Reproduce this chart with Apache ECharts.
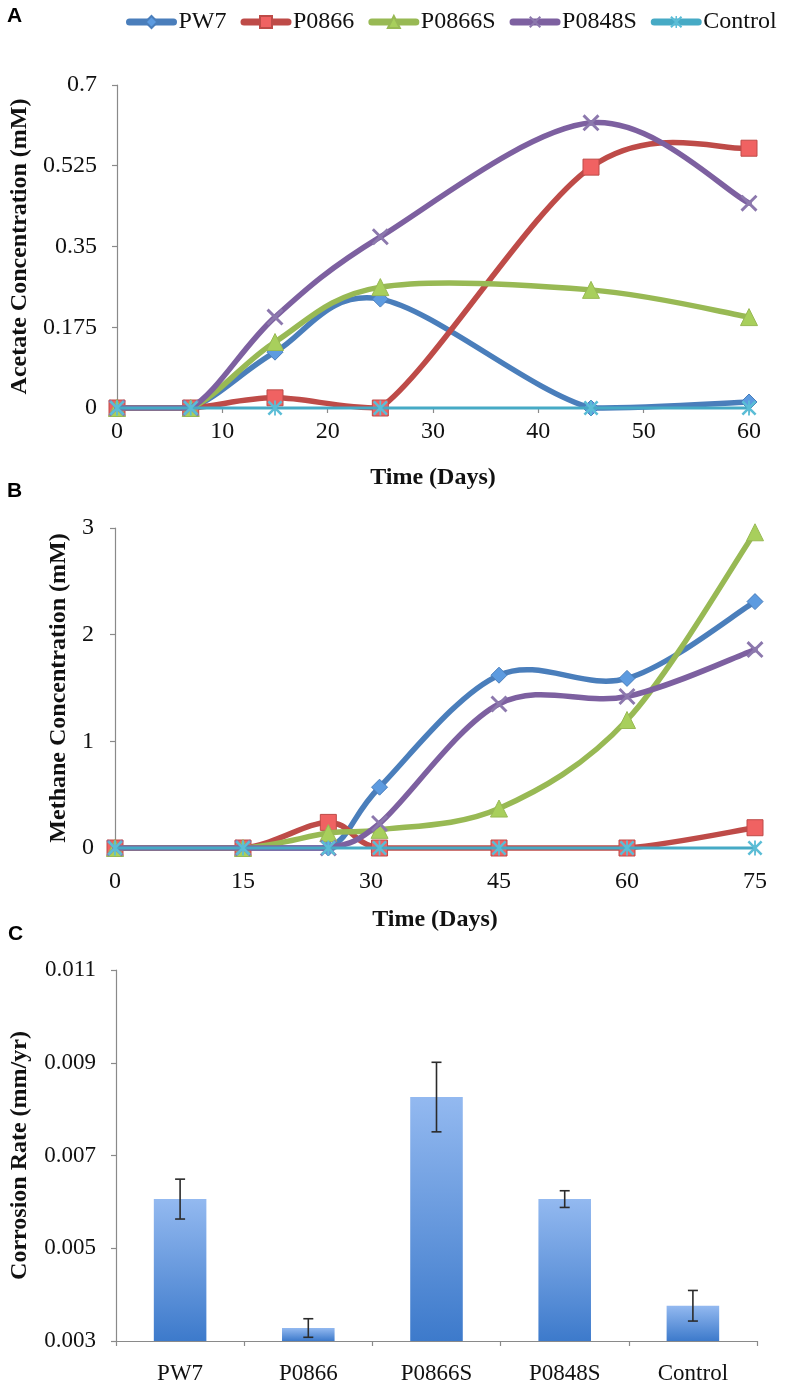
<!DOCTYPE html>
<html><head><meta charset="utf-8">
<script src="https://cdn.jsdelivr.net/npm/echarts@6/dist/echarts.min.js"></script>
<style>html,body{margin:0;padding:0;background:#fff}#c{width:787px;height:1390px}</style>
</head><body><div id="c"></div><script>
// ---------- data ----------
const seriesNames = ['PW7', 'P0866', 'P0866S', 'P0848S', 'Control'];

const acetateDays = [0, 7, 15, 25, 45, 60];
const acetatePW7 = [0, 0, 0.121, 0.236, 0, 0.013];
const acetateP0866 = [0, 0, 0.022, 0, 0.522, 0.563];
const acetateP0866S = [0, 0, 0.143, 0.262, 0.256, 0.197];
const acetateP0848S = [0, 0, 0.197, 0.371, 0.618, 0.444];
const acetateControl = [0, 0, 0, 0, 0, 0];
const acetateTicks = [0, 0.175, 0.35, 0.525, 0.7];

const methaneDays = [0, 15, 25, 31, 45, 60, 75];
const methanePW7 = [0, 0, 0, 0.57, 1.62, 1.59, 2.31];
const methaneP0866 = [0, 0, 0.24, 0, 0, 0, 0.19];
const methaneP0866S = [0, 0, 0.14, 0.17, 0.37, 1.20, 2.96];
const methaneP0848S = [0, 0, 0, 0.23, 1.35, 1.42, 1.86];
const methaneControl = [0, 0, 0, 0, 0, 0, 0];

const corrosionCategories = ['PW7', 'P0866', 'P0866S', 'P0848S', 'Control'];
const corrosionRate = [0.00606, 0.00328, 0.00826, 0.00606, 0.00376];
const corrosionErr = [0.00043, 0.00020, 0.00075, 0.00018, 0.00033];
const corrosionTicks = [0.003, 0.005, 0.007, 0.009, 0.011];

// ---------- styles ----------
const SERIF = 'Liberation Serif';
const lineColors = ['#4a7ebb', '#be4b48', '#98b954', '#7d60a0', '#46aac5'];
const markerFill = ['#5d9be0', '#f06262', '#a8cf5c', '#8c78ad', '#5bbdd6'];
const xPath = 'path://M0,1.2 L1.2,0 L10,8.8 L8.8,10 Z M8.8,0 L10,1.2 L1.2,10 L0,8.8 Z';
const starPath = 'path://M0,1.2 L1.2,0 L10,8.8 L8.8,10 Z M8.8,0 L10,1.2 L1.2,10 L0,8.8 Z M4.4,0 L5.6,0 L5.6,10 L4.4,10 Z';
const symbols = ['diamond', 'rect', 'triangle', xPath, starPath];
const symbolSizes = [16, 16, 17, 17, 15];
const lineWidths = [5.5, 5.5, 5.5, 5.5, 3];

function pairs(xs, ys) { return xs.map((x, i) => [x, ys[i]]); }

function markerSeries(idx, name, xs, ys, axisIndex) {
  return {
    type: 'line', name: name, xAxisIndex: axisIndex, yAxisIndex: axisIndex,
    data: pairs(xs, ys),
    symbol: symbols[idx], symbolSize: symbolSizes[idx], showAllSymbol: true,
    lineStyle: { color: lineColors[idx], width: lineWidths[idx], opacity: 0 },
    itemStyle: { color: markerFill[idx], borderColor: idx >= 3 ? markerFill[idx] : lineColors[idx], borderWidth: idx >= 3 ? 0 : 1 },
    z: 3 + 2 * idx, animation: false
  };
}
function dist(a, b) { return Math.hypot(b[0] - a[0], b[1] - a[1]); }
// Excel-style smoothed line: Catmull-Rom Bezier (tension 1/6) with tangent length limited
// to half the segment, computed from data points converted through the axis scales.
function curveSeries(idx, name, xs, ys, axisIndex) {
  return {
    type: 'custom', name: name + ' curve', xAxisIndex: axisIndex, yAxisIndex: axisIndex,
    data: pairs(xs, ys), silent: true, animation: false, z: 2 + 2 * idx,
    renderItem: function (params, api) {
      if (params.dataIndex !== 0) return null;
      const cs = params.coordSys;
      const yTop = cs.y, yBot = cs.y + cs.height;
      const clampY = v => Math.max(yTop, Math.min(yBot, v));
      const pts = xs.map((x, i) => api.coord([x, ys[i]]));
      const children = [];
      for (let i = 0; i < pts.length - 1; i++) {
        const p0 = pts[i - 1] || pts[i], p1 = pts[i], p2 = pts[i + 1], p3 = pts[i + 2] || pts[i + 1];
        const d12 = dist(p1, p2), d02 = dist(p0, p2), d13 = dist(p1, p3);
        let f0 = 1 / 6, f1 = 1 / 6;
        if (d02 / 6 > d12 / 2 && d02 > 0) f0 = d12 / (2 * d02);
        if (d13 / 6 > d12 / 2 && d13 > 0) f1 = d12 / (2 * d13);
        children.push({
          type: 'bezierCurve',
          shape: {
            x1: p1[0], y1: p1[1], x2: p2[0], y2: p2[1],
            cpx1: p1[0] + (p2[0] - p0[0]) * f0, cpy1: clampY(p1[1] + (p2[1] - p0[1]) * f0),
            cpx2: p2[0] - (p3[0] - p1[0]) * f1, cpy2: clampY(p2[1] - (p3[1] - p1[1]) * f1)
          },
          style: { stroke: lineColors[idx], lineWidth: lineWidths[idx], fill: null, lineCap: 'round' }
        });
      }
      return { type: 'group', children: children };
    }
  };
}

const acetateSets = [acetatePW7, acetateP0866, acetateP0866S, acetateP0848S, acetateControl];
const methaneSets = [methanePW7, methaneP0866, methaneP0866S, methaneP0848S, methaneControl];

const series = [];
acetateSets.forEach((ys, i) => {
  series.push(curveSeries(i, seriesNames[i], acetateDays, ys, 0));
  series.push(markerSeries(i, seriesNames[i], acetateDays, ys, 0));
});
methaneSets.forEach((ys, i) => {
  series.push(curveSeries(i, seriesNames[i], methaneDays, ys, 1));
  series.push(markerSeries(i, seriesNames[i], methaneDays, ys, 1));
});

series.push({
  type: 'bar', name: 'Corrosion', xAxisIndex: 2, yAxisIndex: 2,
  data: corrosionRate, barWidth: '41%', animation: false,
  itemStyle: {
    color: new echarts.graphic.LinearGradient(0, 0, 0, 1, [
      { offset: 0, color: '#93b9f0' }, { offset: 1, color: '#3d7acb' }
    ])
  }
});
series.push({
  type: 'custom', name: 'err', xAxisIndex: 2, yAxisIndex: 2, animation: false, z: 10,
  data: corrosionRate.map((v, i) => [i, v - corrosionErr[i], v + corrosionErr[i]]),
  renderItem: function (params, api) {
    const lo = api.coord([api.value(0), api.value(1)]);
    const hi = api.coord([api.value(0), api.value(2)]);
    const w = 5;
    const st = { stroke: '#2b2b2b', lineWidth: 1.6 };
    return { type: 'group', children: [
      { type: 'line', shape: { x1: lo[0], y1: lo[1], x2: hi[0], y2: hi[1] }, style: st },
      { type: 'line', shape: { x1: hi[0] - w, y1: hi[1], x2: hi[0] + w, y2: hi[1] }, style: st },
      { type: 'line', shape: { x1: lo[0] - w, y1: lo[1], x2: lo[0] + w, y2: lo[1] }, style: st }
    ]};
  }
});

const axisLine = { show: true, lineStyle: { color: '#8a8a8a', width: 1.2 } };
const axisTick = { show: true, inside: false, length: 5, lineStyle: { color: '#8a8a8a', width: 1.2 } };
const tickFont = { fontFamily: SERIF, fontSize: 24, color: '#111' };
const tickFontC = { fontFamily: SERIF, fontSize: 23, color: '#111' };
const nameFont = { fontFamily: SERIF, fontSize: 24, fontWeight: 'bold', color: '#111' };

const option = {
  backgroundColor: '#fff',
  animation: false,
  legend: {
    data: seriesNames, left: 121, top: 5, width: 700, itemWidth: 44, itemHeight: 15, itemGap: 14,
    lineStyle: { width: 7, opacity: 1, cap: 'round' },
    textStyle: { fontFamily: SERIF, fontSize: 24, color: '#111' }
  },
  graphic: [
    { type: 'text', left: 7, top: 6, style: { text: 'A', font: 'bold 21px "Liberation Sans"', fill: '#000' } },
    { type: 'text', left: 7, top: 481, style: { text: 'B', font: 'bold 21px "Liberation Sans"', fill: '#000' } },
    { type: 'text', left: 8, top: 924, style: { text: 'C', font: 'bold 21px "Liberation Sans"', fill: '#000' } }
  ],
  grid: [
    { left: 117, top: 85, width: 632, height: 323 },
    { left: 115, top: 528, width: 640, height: 320 },
    { left: 116, top: 970, width: 641, height: 371 }
  ],
  xAxis: [
    { type: 'value', gridIndex: 0, min: 0, max: 60, interval: 10, splitLine: { show: false },
      axisLine: axisLine, axisTick: axisTick, axisLabel: Object.assign({ margin: 12 }, tickFont),
      name: 'Time (Days)', nameLocation: 'middle', nameGap: 58, nameTextStyle: nameFont },
    { type: 'value', gridIndex: 1, min: 0, max: 75, interval: 15, splitLine: { show: false },
      axisLine: axisLine, axisTick: axisTick, axisLabel: Object.assign({ margin: 22 }, tickFont),
      name: 'Time (Days)', nameLocation: 'middle', nameGap: 60, nameTextStyle: nameFont },
    { type: 'category', gridIndex: 2, data: corrosionCategories, boundaryGap: true,
      axisLine: axisLine, axisTick: Object.assign({}, axisTick, { alignWithLabel: false }),
      axisLabel: Object.assign({ margin: 21 }, tickFontC) }
  ],
  yAxis: [
    { type: 'value', gridIndex: 0, min: 0, max: 0.7, splitLine: { show: false },
      axisLine: axisLine,
      axisTick: Object.assign({}, axisTick, { customValues: acetateTicks }),
      axisLabel: Object.assign({ margin: 20, customValues: acetateTicks, formatter: v => String(+v.toFixed(3)) }, tickFont),
      name: 'Acetate Concentration (mM)', nameLocation: 'middle', nameGap: 84, nameTextStyle: nameFont },
    { type: 'value', gridIndex: 1, min: 0, max: 3, interval: 1, splitLine: { show: false },
      axisLine: axisLine, axisTick: axisTick, axisLabel: Object.assign({ margin: 21 }, tickFont),
      name: 'Methane Concentration (mM)', nameLocation: 'middle', nameGap: 41, nameTextStyle: nameFont },
    { type: 'value', gridIndex: 2, min: 0.003, max: 0.011, startValue: 0.003, splitLine: { show: false },
      axisLine: axisLine,
      axisTick: Object.assign({}, axisTick, { customValues: corrosionTicks }),
      axisLabel: Object.assign({ margin: 20, customValues: corrosionTicks, formatter: v => v.toFixed(3) }, tickFontC),
      name: 'Corrosion Rate (mm/yr)', nameLocation: 'middle', nameGap: 84, nameTextStyle: nameFont }
  ],
  series: series
};

const chart = echarts.init(document.getElementById('c'), null, { renderer: 'canvas' });
chart.setOption(option);
</script></body></html>
